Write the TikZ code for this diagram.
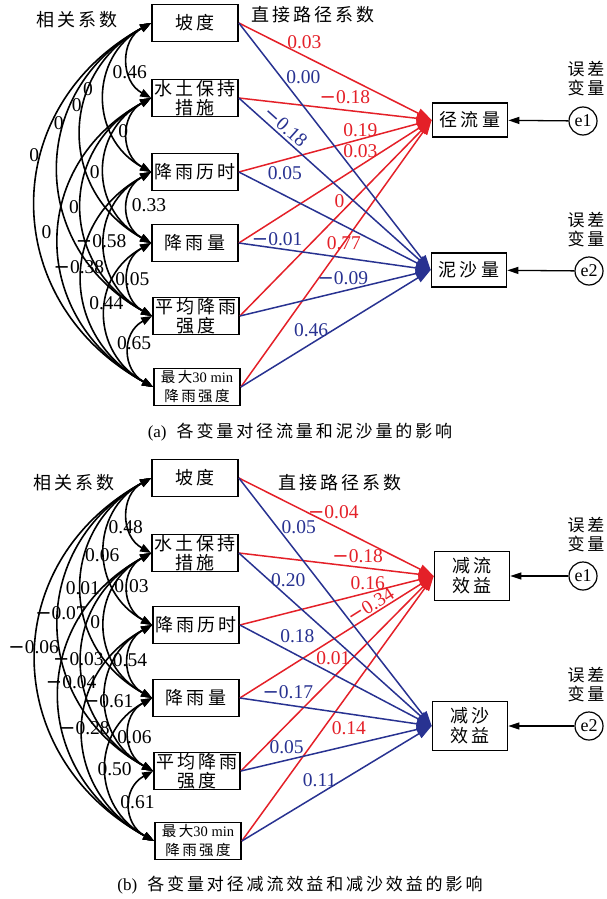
\documentclass[tikz,border=0pt]{standalone}
\usepackage{fontspec}
\setmainfont{Liberation Serif}
\newfontfamily\cjk[LetterSpace=17]{Noto Sans CJK SC}
\newfontfamily\minusfont{DejaVu Sans}
\newcommand{\mn}{{\minusfont −}}
\usepackage{tikz}
\usetikzlibrary{arrows.meta}
\usetikzlibrary{positioning}
\definecolor{pathred}{RGB}{228,32,40}
\definecolor{pathblue}{RGB}{40,50,145}
\tikzset{
var box/.style = {rectangle, draw = black, line width = 1.7pt, fill = white, minimum width = 86pt, minimum height = 37pt, inner sep = 0pt, align = center, font = \fontsize{18}{18.5}\selectfont\cjk},
small box/.style = {var box, font = \fontsize{14.5}{19}\selectfont\cjk},
out box/.style = {var box, minimum width = 75pt, minimum height = 34pt},
tall box/.style = {out box, minimum height = 49pt, font = \fontsize{18}{20}\selectfont\cjk},
err/.style = {circle, draw = black, line width = 1.2pt, minimum size = 28pt, inner sep = 0pt, font = \fontsize{18}{18}\selectfont},
corr/.style = {{Triangle[length = 11pt, width = 8pt]}-{Triangle[length = 11pt, width = 8pt]}, line width = 1.6pt},
red path/.style = {-{Triangle[length = 15pt, width = 10pt]}, line width = 1.5pt, draw = pathred},
blue path/.style = {-{Triangle[length = 15pt, width = 10pt]}, line width = 1.5pt, draw = pathblue},
err path/.style = {-{Triangle[length = 11pt, width = 7pt]}, line width = 1.3pt},
num/.style = {font = \fontsize{19.5}{19.5}\selectfont, inner sep = 1.5pt},
red num/.style = {num, text = pathred},
blue num/.style = {num, text = pathblue},
title/.style = {font = \fontsize{18}{20}\selectfont\cjk, align = center, inner sep = 0pt},
err title/.style = {font = \fontsize{17}{19}\selectfont\cjk, align = center, inner sep = 0pt},
caption/.style = {font = \fontsize{17}{17}\selectfont\cjk, inner sep = 0pt},
}
\begin{document}
\begin{tikzpicture}[x = 1pt, y = -1pt]
    \useasboundingbox (0, 0) rectangle (606, 899);
    % (a) runoff and sediment
    \node[var box] (a1) at (195, 23) {坡度};
    \node[var box] (a2) at (195, 98) {水土保持\\措施};
    \node[var box] (a3) at (195, 172) {降雨历时};
    \node[var box] (a4) at (195, 243) {降雨量};
    \node[var box] (a5) at (196, 316) {平均降雨\\强度};
    \node[small box] (a6) at (197, 387) {最大{\rmfamily 30 min}\\降雨强度};
    \node[out box] (ra1) at (470, 120) {径流量};
    \node[out box] (ra2) at (469, 270) {泥沙量};
    \node[err] (ea1) at (583, 121) {e1};
    \node[err] (ea2) at (589, 271) {e2};
    \node[err title] (ta1) at (586, 79) {误差\\变量};
    \node[err title] (ta2) at (586, 230) {误差\\变量};
    \node[title] (ka) at (77, 20) {相关系数};
    \node[title] (da) at (313, 15) {直接路径系数};
    \node[caption] (capa) at (300, 432) {{\rmfamily (a)}\hspace{10pt}各变量对径流量和泥沙量的影响};
    \draw[err path] (ea1) -- (ra1);
    \draw[err path] (ea2) -- (ra2);
    \draw[corr] (a1.west) .. controls +(-31, 17) and +(-31, -17) .. (a2.west) node[num, pos = 0.64] (ka12) {0.46};
    \draw[corr] (a2.west) .. controls +(-31, 17) and +(-31, -17) .. (a3.west) node[num, pos = 0.45, xshift = -5pt] (ka23) {0};
    \draw[corr] (a3.west) .. controls +(-31, 17) and +(-31, -17) .. (a4.west) node[num, pos = 0.47, xshift = 21pt] (ka34) {0.33};
    \draw[corr] (a4.west) .. controls +(-31, 17) and +(-31, -17) .. (a5.west) node[num, pos = 0.5, xshift = 4pt] (ka45) {0.05};
    \draw[corr] (a5.west) .. controls +(-31, 17) and +(-31, -17) .. (a6.west) node[num, pos = 0.4, xshift = 4pt] (ka56) {0.65};
    \draw[corr] (a1.west) .. controls +(-62, 34) and +(-62, -34) .. (a3.west) node[num, pos = 0.45, xshift = -17pt] (ka13) {0};
    \draw[corr] (a2.west) .. controls +(-62, 34) and +(-62, -34) .. (a4.west) node[num, pos = 0.51, xshift = -10pt] (ka24) {0};
    \draw[corr] (a3.west) .. controls +(-62, 34) and +(-62, -34) .. (a5.west) node[num, pos = 0.48, xshift = -4pt] (ka35) {\mn0.58};
    \draw[corr] (a4.west) .. controls +(-62, 34) and +(-62, -34) .. (a6.west) node[num, pos = 0.43] (ka46) {0.44};
    \draw[corr] (a1.west) .. controls +(-93, 51) and +(-93, -51) .. (a4.west) node[num, pos = 0.39, xshift = -8pt] (ka14) {0};
    \draw[corr] (a2.west) .. controls +(-93, 51) and +(-93, -51) .. (a5.west) node[num, pos = 0.5, xshift = -8pt] (ka25) {0};
    \draw[corr] (a3.west) .. controls +(-93, 51) and +(-93, -51) .. (a6.west) node[num, pos = 0.45, xshift = -4pt] (ka36) {\mn0.38};
    \draw[corr] (a1.west) .. controls +(-124, 68) and +(-124, -68) .. (a5.west) node[num, pos = 0.36, xshift = -7pt] (ka15) {0};
    \draw[corr] (a2.west) .. controls +(-124, 68) and +(-124, -68) .. (a6.west) node[num, pos = 0.47, xshift = -13pt] (ka26) {0};
    \draw[corr] (a1.west) .. controls +(-155, 85) and +(-155, -85) .. (a6.west) node[num, pos = 0.38, xshift = -8pt] (ka16) {0};
    \draw[red path] (a1.east) -- (ra1.west) node[red num, pos = 0.34, above = 4.5pt] (pa11) {0.03};
    \draw[red path] (a2.east) -- (ra1.west) node[red num, pos = 0.55, above = 4pt] (pa21) {\mn0.18};
    \draw[red path] (a3.east) -- (ra1.west) node[red num, pos = 0.63, above = 0pt] (pa31) {0.19};
    \draw[red path] (a4.east) -- (ra1.west) node[red num, pos = 0.63, above = 5pt] (pa41) {0.03};
    \draw[red path] (a5.east) -- (ra1.west) node[red num, pos = 0.52, above = 4pt] (pa51) {0};
    \draw[red path] (a6.east) -- (ra1.west) node[red num, pos = 0.54] (pa61) {0.77};
    \draw[blue path] (a1.east) -- (ra2.west) node[blue num, pos = 0.22, right = 3pt] (pa12) {0.00};
    \draw[blue path] (a2.east) -- (ra2.west) node[blue num, pos = 0.21, sloped, above = 1pt] (pa22) {\mn0.18};
    \draw[blue path] (a3.east) -- (ra2.west) node[blue num, pos = 0.24, above = 13pt] (pa32) {0.05};
    \draw[blue path] (a4.east) -- (ra2.west) node[blue num, pos = 0.2, above = 0pt] (pa42) {\mn0.01};
    \draw[blue path] (a5.east) -- (ra2.west) node[blue num, pos = 0.54, above = 4.5pt] (pa52) {\mn0.09};
    \draw[blue path] (a6.east) -- (ra2.west) node[blue num, pos = 0.37, above = 4.5pt] (pa62) {0.46};
    % (b) runoff and sediment reduction benefit
    \node[var box] (b1) at (195, 478) {坡度};
    \node[var box] (b2) at (195, 553) {水土保持\\措施};
    \node[var box] (b3) at (196, 625) {降雨历时};
    \node[var box] (b4) at (196, 698) {降雨量};
    \node[var box] (b5) at (197, 771) {平均降雨\\强度};
    \node[small box] (b6) at (198, 841) {最大{\rmfamily 30 min}\\降雨强度};
    \node[tall box] (rb1) at (472, 576) {减流\\效益};
    \node[tall box] (rb2) at (470, 726) {减沙\\效益};
    \node[err] (eb1) at (583, 576) {e1};
    \node[err] (eb2) at (589, 726) {e2};
    \node[err title] (tb1) at (586, 535) {误差\\变量};
    \node[err title] (tb2) at (586, 685) {误差\\变量};
    \node[title] (kb) at (74, 483) {相关系数};
    \node[title] (db) at (340, 483) {直接路径系数};
    \node[caption] (capb) at (300, 885) {{\rmfamily (b)}\hspace{10pt}各变量对径减流效益和减沙效益的影响};
    \draw[err path] (eb1) -- (rb1);
    \draw[err path] (eb2) -- (rb2);
    \draw[corr] (b1.west) .. controls +(-31, 17) and +(-31, -17) .. (b2.west) node[num, pos = 0.64, xshift = -4pt] (kb12) {0.48};
    \draw[corr] (b2.west) .. controls +(-31, 17) and +(-31, -17) .. (b3.west) node[num, pos = 0.47, xshift = 3pt] (kb23) {0.03};
    \draw[corr] (b3.west) .. controls +(-31, 17) and +(-31, -17) .. (b4.west) node[num, pos = 0.48, xshift = 1pt] (kb34) {0.54};
    \draw[corr] (b4.west) .. controls +(-31, 17) and +(-31, -17) .. (b5.west) node[num, pos = 0.53, xshift = 5pt] (kb45) {0.06};
    \draw[corr] (b5.west) .. controls +(-31, 17) and +(-31, -17) .. (b6.west) node[num, pos = 0.45, xshift = 7pt] (kb56) {0.61};
    \draw[corr] (b1.west) .. controls +(-62, 34) and +(-62, -34) .. (b3.west) node[num, pos = 0.52, xshift = -3pt] (kb13) {0.06};
    \draw[corr] (b2.west) .. controls +(-62, 34) and +(-62, -34) .. (b4.west) node[num, pos = 0.48, xshift = -10pt] (kb24) {0};
    \draw[corr] (b3.west) .. controls +(-62, 34) and +(-62, -34) .. (b5.west) node[num, pos = 0.52, xshift = 2pt] (kb35) {\mn0.61};
    \draw[corr] (b4.west) .. controls +(-62, 34) and +(-62, -34) .. (b6.west) node[num, pos = 0.5, xshift = 8pt] (kb46) {0.50};
    \draw[corr] (b1.west) .. controls +(-93, 51) and +(-93, -51) .. (b4.west) node[num, pos = 0.5, xshift = 1pt] (kb14) {0.01};
    \draw[corr] (b2.west) .. controls +(-93, 51) and +(-93, -51) .. (b5.west) node[num, pos = 0.49, xshift = -4pt] (kb25) {\mn0.03};
    \draw[corr] (b3.west) .. controls +(-93, 51) and +(-93, -51) .. (b6.west) node[num, pos = 0.48, xshift = 1pt] (kb36) {\mn0.28};
    \draw[corr] (b1.west) .. controls +(-124, 68) and +(-124, -68) .. (b5.west) node[num, pos = 0.465, xshift = 1pt] (kb15) {\mn0.07};
    \draw[corr] (b2.west) .. controls +(-124, 68) and +(-124, -68) .. (b6.west) node[num, pos = 0.455, xshift = 11pt] (kb26) {\mn0.04};
    \draw[corr] (b1.west) .. controls +(-155, 85) and +(-155, -85) .. (b6.west) node[num, pos = 0.47, xshift = -3pt] (kb16) {\mn0.06};
    \draw[red path] (b1.east) -- (rb1.west) node[red num, pos = 0.485, above = 4.5pt] (pb11) {\mn0.04};
    \draw[red path] (b2.east) -- (rb1.west) node[red num, pos = 0.61, above = 2pt] (pb21) {\mn0.18};
    \draw[red path] (b3.east) -- (rb1.west) node[red num, pos = 0.66, above = 1pt] (pb31) {0.16};
    \draw[red path] (b4.east) -- (rb1.west) node[red num, pos = 0.70, sloped, above = 0pt] (pb41) {\mn0.34};
    \draw[red path] (b5.east) -- (rb1.west) node[red num, pos = 0.58, left = 0pt] (pb51) {0.01};
    \draw[red path] (b6.east) -- (rb1.west) node[red num, pos = 0.426, right = 6pt] (pb61) {0.14};
    \draw[blue path] (b1.east) -- (rb2.west) node[blue num, pos = 0.2, right = 2pt] (pb12) {0.05};
    \draw[blue path] (b2.east) -- (rb2.west) node[blue num, pos = 0.156, right = 0pt] (pb22) {0.20};
    \draw[blue path] (b3.east) -- (rb2.west) node[blue num, pos = 0.3, above = 10pt] (pb32) {0.18};
    \draw[blue path] (b4.east) -- (rb2.west) node[blue num, pos = 0.25, above = 4pt] (pb42) {\mn0.17};
    \draw[blue path] (b5.east) -- (rb2.west) node[blue num, pos = 0.24, above = 4pt] (pb52) {0.05};
    \draw[blue path] (b6.east) -- (rb2.west) node[blue num, pos = 0.41, above = 5pt] (pb62) {0.11};
\end{tikzpicture}
\end{document}
